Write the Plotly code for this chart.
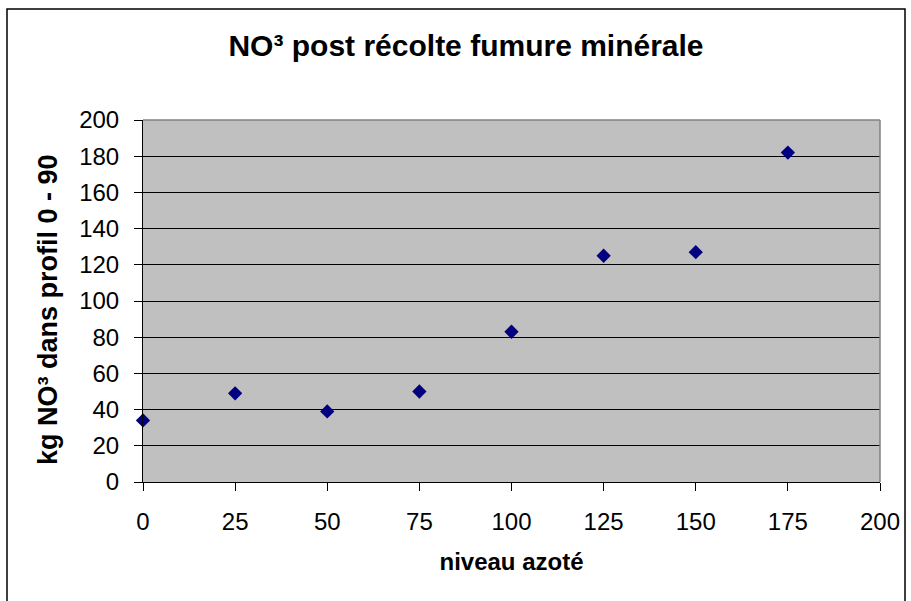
import plotly.graph_objects as go

# niveau azoté (kg N/ha) vs NO3 post récolte
niveau_azote = [0, 25, 50, 75, 100, 125, 150, 175]
no3_profil = [34, 49, 39, 50, 83, 125, 127, 182]

x_ticks = [0, 25, 50, 75, 100, 125, 150, 175, 200]
y_ticks = [0, 20, 40, 60, 80, 100, 120, 140, 160, 180, 200]

W, H = 911, 601
ML, MR, MT, MB = 143, 31, 120, 119
pw, ph = W - ML - MR, H - MT - MB


def px_to_paper_x(px):
    return (px - ML) / pw


def px_to_paper_y(py):
    return (H - MB - py) / ph


fig = go.Figure(go.Scatter(
    x=niveau_azote,
    y=no3_profil,
    mode='markers',
    marker=dict(symbol='diamond', size=11, color='#000080'),
    cliponaxis=False,
))

fig.update_layout(
    width=W, height=H,
    margin=dict(l=ML, r=MR, t=MT, b=MB),
    paper_bgcolor='white',
    plot_bgcolor='#c0c0c0',
    font=dict(family='Liberation Sans, Arial, sans-serif', color='black'),
    showlegend=False,
    title=dict(
        text='<b>NO³ post récolte fumure minérale</b>',
        x=466 / W, xanchor='center', y=1 - 45 / H, yanchor='middle',
        font=dict(size=30),
    ),
    annotations=[
        dict(text='<b>kg NO³ dans profil 0 - 90</b>', textangle=-90,
             xref='paper', yref='paper',
             x=px_to_paper_x(48), y=px_to_paper_y(310),
             xanchor='center', yanchor='middle', showarrow=False,
             font=dict(size=27)),
    ],
    shapes=[
        # chart border
        dict(type='rect', xref='paper', yref='paper',
             x0=px_to_paper_x(7), x1=px_to_paper_x(905),
             y0=px_to_paper_y(610), y1=px_to_paper_y(9),
             line=dict(color='black', width=1.5), layer='below'),
        # plot area border (top / right in grey)
        dict(type='line', xref='paper', yref='paper', x0=0, x1=1, y0=1, y1=1,
             line=dict(color='#808080', width=1.5)),
        dict(type='line', xref='paper', yref='paper', x0=1, x1=1, y0=0, y1=1,
             line=dict(color='#808080', width=1.5)),
    ],
)

fig.update_xaxes(
    range=[0, 200], tickvals=x_ticks, ticks='outside', ticklen=8,
    tickcolor='black', showgrid=False, zeroline=False,
    showline=True, linecolor='black', linewidth=1,
    tickfont=dict(size=24), ticklabelstandoff=10,
    title=dict(text='<b>niveau azoté</b>', font=dict(size=24), standoff=19),
)

fig.update_yaxes(
    range=[0, 200], tickvals=y_ticks, ticks='outside', ticklen=8,
    tickcolor='black', showgrid=True, gridcolor='black', gridwidth=1,
    zeroline=False, showline=True, linecolor='black', linewidth=1,
    tickfont=dict(size=24), ticklabelstandoff=10,
)

# the page body has a default 8px margin; drop it so the figure fills the window
fig.write_html('out.html', config={'displayModeBar': False},
               post_script="document.body.style.margin='0';")
